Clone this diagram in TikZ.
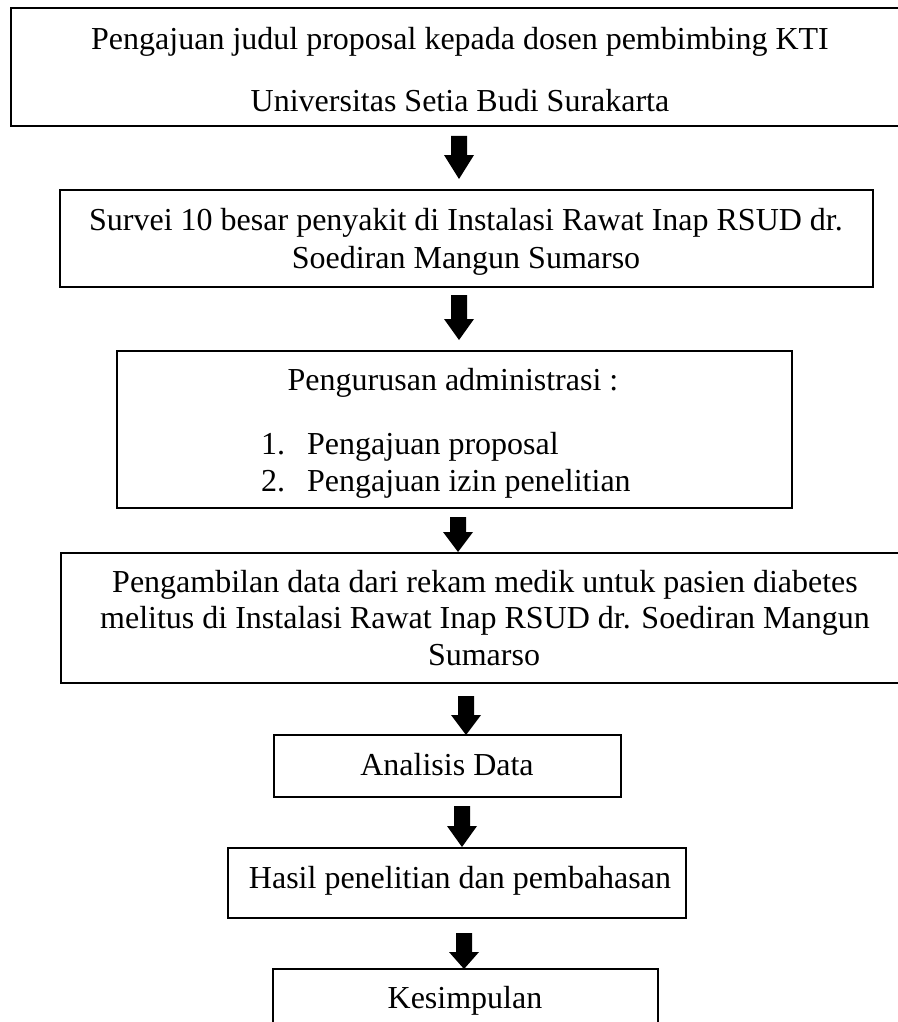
\documentclass[tikz,border=0pt]{standalone}
\usepackage{fontspec}
\setmainfont{Liberation Serif}
\begin{document}
\begin{tikzpicture}[x=1pt,y=-1pt,
  box/.style={draw=black,line width=2pt,inner sep=0pt,rectangle},
  txt/.style={anchor=base,inner sep=0pt,font=\fontsize{32}{37}\selectfont},
  barrow/.style={fill=black,draw=none}]
\useasboundingbox (0,0) rectangle (897,1022);
% boxes
\node[box,minimum width=889,minimum height=118] (b1) at (455.5,67) {};
\node[box,minimum width=813,minimum height=97] (b2) at (466.5,238.5) {};
\node[box,minimum width=675,minimum height=157] (b3) at (454.5,429.5) {};
\node[box,minimum width=839,minimum height=130] (b4) at (480.5,618) {};
\node[box,minimum width=347,minimum height=62] (b5) at (447.5,766) {};
\node[box,minimum width=458,minimum height=70] (b6) at (457,883) {};
\node[box,minimum width=385,minimum height=71] (b7) at (465.5,1004.5) {};
% texts
\node[txt] (t1a) at (460,50) {Pengajuan judul proposal kepada dosen pembimbing KTI};
\node[txt] (t1b) at (460,112) {Universitas Setia Budi Surakarta};
\node[txt] (t2a) at (466,230) {Survei 10 besar penyakit di Instalasi Rawat Inap RSUD dr.};
\node[txt] (t2b) at (466,268) {Soediran Mangun Sumarso};
\node[txt] (t3a) at (453,390) {Pengurusan administrasi :};
\node[txt,anchor=base west] (t3n1) at (261,454) {1.};
\node[txt,anchor=base west] (t3i1) at (307,454) {Pengajuan proposal};
\node[txt,anchor=base west] (t3n2) at (261,491) {2.};
\node[txt,anchor=base west] (t3i2) at (307,491) {Pengajuan izin penelitian};
\node[txt] (t4a) at (485,592) {Pengambilan data dari rekam medik untuk pasien diabetes};
\node[txt] (t4b) at (485,628) {melitus di Instalasi Rawat Inap RSUD dr. Soediran Mangun};
\node[txt] (t4c) at (484,665) {Sumarso};
\node[txt] (t5) at (447,775) {Analisis Data};
\node[txt] (t6) at (460,888) {Hasil penelitian dan pembahasan};
\node[txt] (t7) at (465,1008) {Kesimpulan};
% block arrows
\newcommand{\blockarrow}[4]{%
  \fill[barrow] (#1-8,#2) -- (#1+8,#2) -- (#1+8,#3) -- (#1+15,#3) -- (#1,#4) -- (#1-15,#3) -- (#1-8,#3) -- cycle;}
\blockarrow{459}{136}{155}{179}
\blockarrow{459}{295}{319}{340}
\blockarrow{458}{517}{532}{552}
\blockarrow{466}{696}{715}{735}
\blockarrow{462}{806}{826}{847}
\blockarrow{464}{933}{952}{969}
\end{tikzpicture}
\end{document}
